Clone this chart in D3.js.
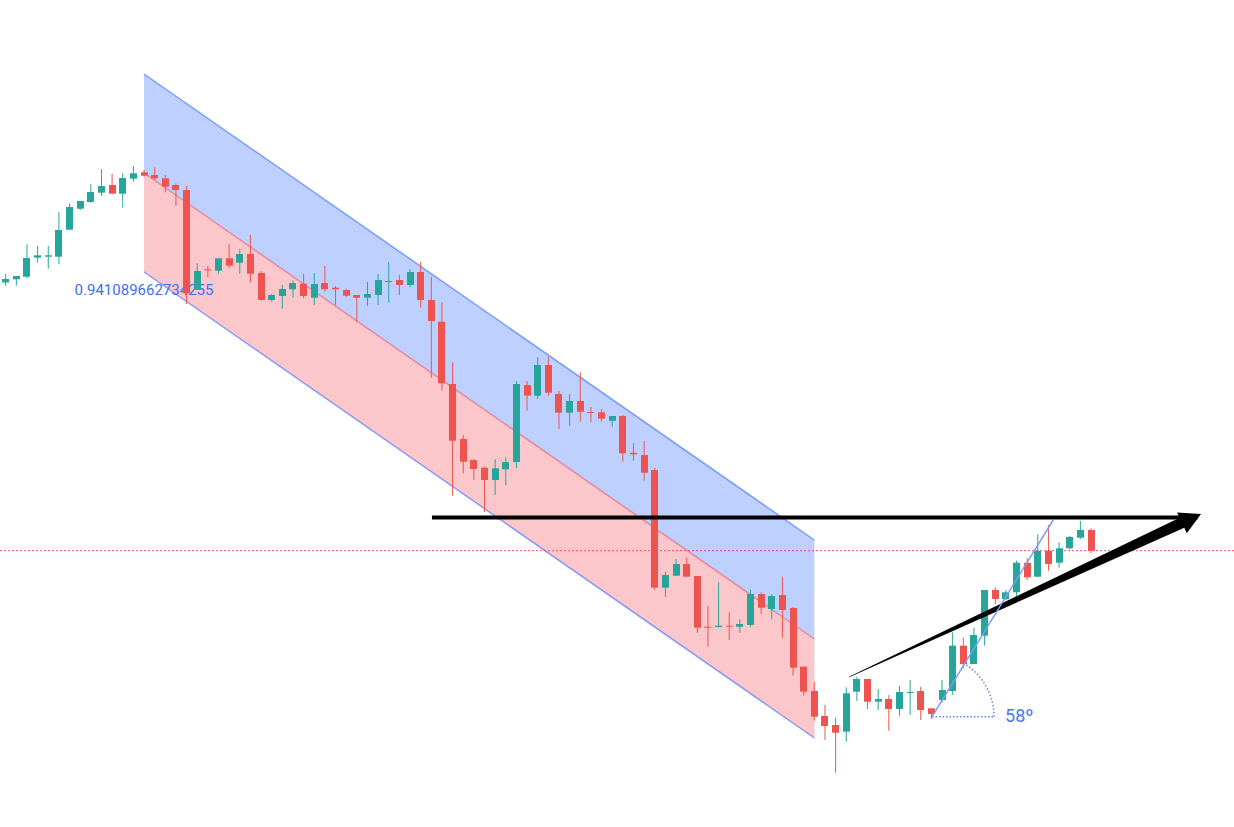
<!DOCTYPE html>
<html><head><meta charset="utf-8">
<script src="https://cdn.jsdelivr.net/npm/d3@7"></script>
<style>html,body{margin:0;padding:0;background:#fff;overflow:hidden}svg{display:block}</style>
</head><body><svg id="c" width="1234" height="827"></svg>
<script>
// ---- candle data (bar index 0..102) ----
const opens  = [61.75,62.07,62.33,64.23,64.33,64.33,67.03,69.13,69.8,70.73,71.5,70.63,72.13,72.77,72.5,72.17,71.5,71.0,61.03,63.07,
62.93,64.17,63.73,64.6,62.7,60.0,60.4,61.07,61.63,60.23,61.7,61.23,61.0,60.5,60.23,60.5,61.85,62.0,61.5,62.8,
60.0,57.83,51.6,46.1,44.0,43.23,42.0,43.07,43.8,51.5,50.43,53.5,50.6,48.73,49.9,48.8,48.77,47.93,48.4,44.73,
44.5,43.0,31.23,32.43,33.6,32.4,27.33,27.3,27.43,27.33,27.5,30.6,29.1,30.5,29.2,23.33,20.9,18.4,17.5,16.83,
20.83,22.1,19.83,20.1,19.1,20.75,20.9,19.17,20.0,20.9,25.43,23.6,26.43,31.0,30.1,30.77,33.73,32.33,34.93,33.73,
35.17,36.23,37.0];
const highs  = [62.6,62.4,65.57,65.4,65.4,68.8,69.63,69.9,71.57,73.1,72.6,72.67,73.4,73.0,73.27,72.5,71.67,71.4,63.67,63.4,
64.17,65.6,65.1,66.5,62.9,60.6,61.5,61.97,62.6,62.7,63.4,61.4,61.1,60.5,61.8,62.6,63.8,62.5,63.07,63.8,
62.33,59.77,53.77,46.5,44.07,43.33,44.07,44.27,51.9,51.9,54.27,54.33,50.9,50.6,52.77,49.3,49.07,48.4,48.5,45.67,
45.9,43.2,32.83,34.1,34.27,32.4,29.4,31.77,28.77,28.07,31.0,30.77,30.57,32.3,29.3,23.33,21.83,19.5,18.23,21.27,
22.33,22.1,21.1,20.5,21.4,22.0,21.33,19.17,22.0,26.77,26.23,27.23,31.0,31.27,31.0,33.93,34.17,36.57,37.5,35.77,
36.4,37.9,37.17];
const lows   = [61.4,61.43,62.17,63.73,63.13,63.6,67.03,69.0,69.73,70.4,70.63,69.23,71.83,72.33,72.0,70.77,69.43,59.6,61.0,62.27,
62.57,63.17,62.63,61.73,59.93,59.83,59.13,60.23,60.17,59.5,60.83,59.5,60.33,57.77,59.43,59.5,59.73,60.5,61.3,59.23,
52.23,50.93,40.43,42.67,42.0,38.8,40.5,41.5,43.17,48.93,50.1,50.43,47.1,47.43,47.83,47.77,47.83,47.33,43.83,43.93,
41.93,31.0,30.33,32.43,32.33,26.73,25.33,27.27,26.0,26.73,27.33,28.6,28.1,26.23,22.43,20.43,17.93,16.0,12.73,15.83,
19.9,19.1,19.0,16.93,18.43,18.5,18.0,18.1,19.73,20.5,23.17,23.6,25.43,29.57,30.0,30.4,32.0,32.33,32.93,33.23,
35.07,36.1,34.67];
const closes = [62.1,62.4,64.2,64.47,64.47,67.0,69.3,69.9,70.8,71.4,70.63,72.2,72.67,72.43,72.17,71.33,71.0,60.67,62.9,62.97,
64.17,63.43,64.6,62.63,60.0,60.5,61.1,61.7,60.4,61.6,61.07,61.07,60.43,60.23,60.6,62.0,61.9,61.5,62.8,60.0,
57.9,51.67,45.93,43.83,43.1,42.0,43.17,43.8,51.6,50.43,53.5,50.73,48.73,49.9,48.83,48.75,48.13,48.4,44.67,44.57,
42.73,31.23,32.5,33.6,32.33,27.23,27.23,27.43,27.33,27.6,30.6,29.23,30.4,29.0,23.23,20.83,18.33,17.4,16.73,20.67,
22.1,19.83,20.1,19.1,20.8,20.8,19.0,18.6,21.0,25.43,23.6,26.5,31.0,30.1,30.77,33.73,32.27,34.93,33.6,35.17,
36.3,37.0,34.93];
const bars = d3.range(opens.length);

// ---- drawings (bar index, price) ----
const channelBars = [13, 76];
const channelMid = [72.7, 26.1];
const channelDev = 9.9;
const pearsonR = "0.941089662734255";
const hArrowBars = [40.06, 112.0];
const hArrowPrice = 38.24;
const wedgeBars = [79.26, 112.34];
const wedgePrices = [22.3, 38.6];
const angleBars = [87.06, 98.48];
const anglePrices = [18.33, 38.05];

const UP = "#26a69a", DOWN = "#ef5350";

const svg = d3.select("#c");
const x = d3.scaleLinear().domain([0, 102]).range([5.7, 1091]);
const y = d3.scaleLinear().domain([0, 90]).range([900, 0]);

// regression channel
const x0 = x(channelBars[0]), x1 = x(channelBars[1]);
const up0 = y(channelMid[0] + channelDev), up1 = y(channelMid[1] + channelDev);
const md0 = y(channelMid[0]), md1 = y(channelMid[1]);
const lo0 = y(channelMid[0] - channelDev), lo1 = y(channelMid[1] - channelDev);
const gCh = svg.append("g");
gCh.append("path").attr("d", `M${x0},${up0}L${x1},${up1}L${x1},${md1}L${x0},${md0}Z`)
  .attr("fill", "rgba(41,98,255,0.3)");
gCh.append("path").attr("d", `M${x0},${md0}L${x1},${md1}L${x1},${lo1}L${x0},${lo0}Z`)
  .attr("fill", "rgba(242,54,69,0.28)");
gCh.append("line").attr("x1", x0).attr("y1", up0).attr("x2", x1).attr("y2", up1)
  .attr("stroke", "rgba(41,98,255,0.55)").attr("stroke-width", 1.5);
gCh.append("line").attr("x1", x0).attr("y1", lo0).attr("x2", x1).attr("y2", lo1)
  .attr("stroke", "rgba(41,98,255,0.55)").attr("stroke-width", 1.5);
gCh.append("line").attr("x1", x0).attr("y1", md0).attr("x2", x1).attr("y2", md1)
  .attr("stroke", "rgba(242,54,69,0.45)").attr("stroke-width", 1.5);
gCh.append("text").attr("x", x0).attr("y", lo0 + 23).attr("text-anchor", "middle")
  .attr("font-family", "Roboto, sans-serif").attr("font-size", 15)
  .attr("fill", "#3f6ff5").text(pearsonR);

// last price line
const lastClose = closes[closes.length - 1];
svg.append("line").attr("x1", 0).attr("x2", 1234)
  .attr("y1", y(lastClose)).attr("y2", y(lastClose))
  .attr("stroke", "#f23645").attr("stroke-width", 1).attr("stroke-dasharray", "2,2")
  .attr("opacity", 0.85);

// candles
const gC = svg.append("g");
bars.forEach(i => {
  const o = opens[i], c = closes[i], h = highs[i], l = lows[i];
  const col = c >= o ? UP : DOWN;
  const cx = x(i);
  gC.append("line").attr("x1", cx).attr("x2", cx).attr("y1", y(h)).attr("y2", y(l))
    .attr("stroke", col).attr("stroke-width", 1);
  const top = y(Math.max(o, c)), bot = y(Math.min(o, c));
  gC.append("rect").attr("x", Math.round(cx - 3.5)).attr("width", 7)
    .attr("y", top).attr("height", Math.max(1, bot - top)).attr("fill", col);
});

// horizontal black arrow line
svg.append("line").attr("x1", x(hArrowBars[0])).attr("x2", x(hArrowBars[1]))
  .attr("y1", y(hArrowPrice)).attr("y2", y(hArrowPrice))
  .attr("stroke", "#000").attr("stroke-width", 4);

// tapered arrow
(function () {
  const sx = x(wedgeBars[0]), sy = y(wedgePrices[0]);
  const tx = x(wedgeBars[1]), ty = y(wedgePrices[1]);
  const L = Math.hypot(tx - sx, ty - sy);
  const dx = (tx - sx) / L, dy = (ty - sy) / L;
  const nx = -dy, ny = dx;
  const headLen = 21, headW = 11.5, bodyW = 5.5;
  const bx = tx - dx * headLen, by = ty - dy * headLen;
  const pts = [
    [sx - nx * 0.3, sy - ny * 0.3],
    [bx - nx * bodyW, by - ny * bodyW],
    [bx - nx * headW, by - ny * headW],
    [tx, ty],
    [bx + nx * headW, by + ny * headW],
    [bx + nx * bodyW, by + ny * bodyW],
    [sx + nx * 0.3, sy + ny * 0.3]
  ];
  svg.append("path").attr("d", d3.line()(pts) + "Z").attr("fill", "#000");
})();

// trend angle
(function () {
  const ax = x(angleBars[0]), ay = y(anglePrices[0]);
  const bx = x(angleBars[1]), by = y(anglePrices[1]);
  const ang = Math.atan2(ay - by, bx - ax);
  const deg = Math.round(ang * 180 / Math.PI);
  const r = 62;
  const g = svg.append("g");
  g.append("line").attr("x1", ax).attr("y1", ay).attr("x2", bx).attr("y2", by)
    .attr("stroke", "#7b9cf8").attr("stroke-width", 1.5);
  g.append("line").attr("x1", ax).attr("y1", ay).attr("x2", ax + r).attr("y2", ay)
    .attr("stroke", "#5f86f6").attr("stroke-width", 1.5).attr("stroke-dasharray", "1.5,2");
  g.append("path")
    .attr("d", `M${ax + r},${ay}A${r},${r} 0 0 0 ${ax + r * Math.cos(ang)},${ay - r * Math.sin(ang)}`)
    .attr("fill", "none").attr("stroke", "#5f86f6").attr("stroke-width", 1.5)
    .attr("stroke-dasharray", "1.5,2");
  g.append("text").attr("x", ax + r + 11).attr("y", ay + 5)
    .attr("font-family", "Roboto, sans-serif").attr("font-size", 18)
    .attr("fill", "#4a78f5").text(deg + "º");
})();
</script></body></html>
